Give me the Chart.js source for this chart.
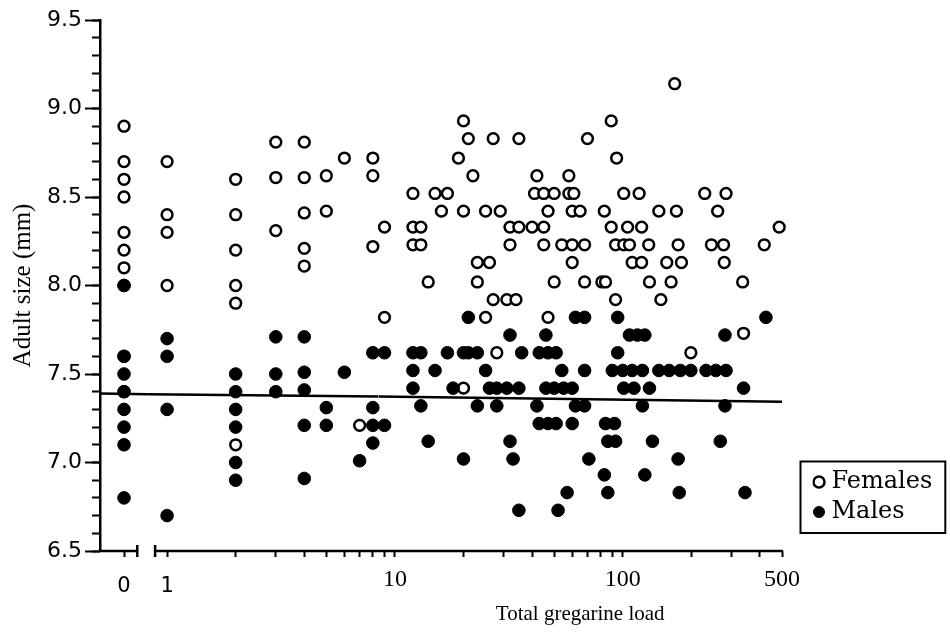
<!DOCTYPE html>
<html>
<head>
<meta charset="utf-8">
<script src="https://cdn.jsdelivr.net/npm/chart.js"></script>
<style>html,body{margin:0;padding:0;background:#fff;}canvas{display:block;}</style>
</head>
<body>
<canvas id="c" width="950" height="633"></canvas>
<script>
// ---------------- values ----------------
// Adult size (mm) of individuals with zero gregarines
const zeroFemaleSize = [8.9, 8.7, 8.6, 8.5, 8.3, 8.2, 8.1, 8.0, 7.6, 7.4];
const zeroMaleSize   = [8.0, 7.6, 7.5, 7.4, 7.3, 7.2, 7.1, 6.8];

// Females with a gregarine load >= 1 (load, size)
const femaleLoad = [
  1, 1, 1, 1,
  2, 2, 2, 2, 2, 2,
  3, 3, 3,
  4, 4, 4, 4, 4,
  5, 5, 6, 7, 8, 8, 8, 9, 9,
  169,
  20, 89,
  21, 27, 35, 70,
  19, 94,
  22, 42, 58,
  12, 15, 17, 41, 45, 50, 58, 61, 101, 118, 229, 284,
  16, 20, 25, 29, 47, 60, 65, 83, 144, 172, 261,
  12, 13, 32, 35, 40, 45, 89, 105, 121, 486,
  12, 13, 32, 45, 54, 60, 68, 93, 101, 107, 130, 175, 245, 277, 418,
  23, 26, 60, 110, 121, 156, 181, 279,
  14, 23, 50, 68, 81, 84, 131, 163, 336,
  27, 31, 34, 93, 147,
  25, 47,
  339,
  28, 199,
  20
];
const femaleSize = [
  8.7, 8.4, 8.3, 8.0,
  8.6, 8.4, 8.2, 8.0, 7.9, 7.1,
  8.81, 8.61, 8.31,
  8.81, 8.61, 8.41, 8.21, 8.11,
  8.62, 8.42, 8.72, 7.21, 8.72, 8.62, 8.22, 8.33, 7.82,
  9.14,
  8.93, 8.93,
  8.83, 8.83, 8.83, 8.83,
  8.72, 8.72,
  8.62, 8.62, 8.62,
  8.52, 8.52, 8.52, 8.52, 8.52, 8.52, 8.52, 8.52, 8.52, 8.52, 8.52, 8.52,
  8.42, 8.42, 8.42, 8.42, 8.42, 8.42, 8.42, 8.42, 8.42, 8.42, 8.42,
  8.33, 8.33, 8.33, 8.33, 8.33, 8.33, 8.33, 8.33, 8.33, 8.33,
  8.23, 8.23, 8.23, 8.23, 8.23, 8.23, 8.23, 8.23, 8.23, 8.23, 8.23, 8.23, 8.23, 8.23, 8.23,
  8.13, 8.13, 8.13, 8.13, 8.13, 8.13, 8.13, 8.13,
  8.02, 8.02, 8.02, 8.02, 8.02, 8.02, 8.02, 8.02, 8.02,
  7.92, 7.92, 7.92, 7.92, 7.92,
  7.82, 7.82,
  7.73,
  7.62, 7.62,
  7.42
];

// Males with a gregarine load >= 1 (load, size)
const maleLoad = [
  1, 1, 1, 1,
  2, 2, 2, 2, 2, 2,
  3, 3, 3,
  4, 4, 4, 4, 4,
  5, 5, 6, 7, 8, 8, 8, 8, 9, 9,
  21, 62, 68, 95, 425,
  32, 46, 107, 116, 125, 281,
  12, 13, 17, 20, 21, 23, 36, 43, 47, 51, 95,
  12, 15, 25, 54, 68, 90, 100, 110, 122, 144, 160, 179, 199, 232, 256, 284,
  12, 18, 26, 28, 31, 35, 46, 50, 55, 60, 101, 112, 131, 339,
  13, 23, 28, 42, 62, 68, 122, 281,
  43, 47, 51, 60, 84, 92,
  14, 32, 86, 93, 135, 268,
  20, 33, 71, 175,
  83, 125,
  57, 86, 177, 344,
  35, 52
];
const maleSize = [
  7.7, 7.6, 7.3, 6.7,
  7.5, 7.4, 7.3, 7.2, 7.0, 6.9,
  7.71, 7.5, 7.4,
  7.71, 7.51, 7.41, 7.21, 6.91,
  7.31, 7.21, 7.51, 7.01, 7.62, 7.31, 7.21, 7.11, 7.62, 7.21,
  7.82, 7.82, 7.82, 7.82, 7.82,
  7.72, 7.72, 7.72, 7.72, 7.72, 7.72,
  7.62, 7.62, 7.62, 7.62, 7.62, 7.62, 7.62, 7.62, 7.62, 7.62, 7.62,
  7.52, 7.52, 7.52, 7.52, 7.52, 7.52, 7.52, 7.52, 7.52, 7.52, 7.52, 7.52, 7.52, 7.52, 7.52, 7.52,
  7.42, 7.42, 7.42, 7.42, 7.42, 7.42, 7.42, 7.42, 7.42, 7.42, 7.42, 7.42, 7.42, 7.42,
  7.32, 7.32, 7.32, 7.32, 7.32, 7.32, 7.32, 7.32,
  7.22, 7.22, 7.22, 7.22, 7.22, 7.22,
  7.12, 7.12, 7.12, 7.12, 7.12, 7.12,
  7.02, 7.02, 7.02, 7.02,
  6.93, 6.93,
  6.83, 6.83, 6.83, 6.83,
  6.73, 6.73
];

// Fitted regression line: size = intercept + slope * log10(load + 1)
const fitLine = { intercept: 7.39, slope: -0.0174 };

// Tick labels
const loadTickLabels = [0, 1, 10, 100, 500];
const sizeTickLabels = [6.5, 7.0, 7.5, 8.0, 8.5, 9.0, 9.5];

// ---------------- axis geometry (broken log axis) ----------------
const ZERO_MIN = -1, ZERO_MAX = 1;     // linear segment holding the "0" column
const LOG_MIN = 0.825, LOG_SPLIT = 8.46, LOG_MAX = 500;
const DECADE_PX = 227.6;
const AXIS_BREAK = [0.55, 0.886];      // end of zero segment, start of log segment (axis units)

function collect(loads, sizes, lo, hi) {
  const out = [];
  loads.forEach((l, i) => { if (l >= lo && l < hi) out.push({ x: l, y: sizes[i] }); });
  return out;
}
const zeroPoints = sizes => sizes.map(s => ({ x: 0, y: s }));
const fitAt = load => fitLine.intercept + fitLine.slope * Math.log10(load + 1);

const minorLoadTicks = [];
[1, 10, 100].forEach(d => { for (let m = 1; m <= 9; m++) if (d * m <= LOG_MAX) minorLoadTicks.push(d * m); });

const femaleStyle = { backgroundColor: '#ffffff', borderColor: '#000000', borderWidth: 2.5,
  pointRadius: 5.4, pointHoverRadius: 5.4, order: 2, clip: false, yAxisID: 'y' };
const maleStyle = { backgroundColor: '#000000', borderColor: '#000000', borderWidth: 1,
  pointRadius: 6.3, pointHoverRadius: 6.3, order: 1, clip: false, yAxisID: 'y' };
const lineStyle = { showLine: true, borderColor: '#000000', borderWidth: 2.5, pointRadius: 0,
  pointHoverRadius: 0, order: 0, fill: false, yAxisID: 'y' };

const datasets = [
  Object.assign({ label: 'Females', xAxisID: 'xb', data: collect(femaleLoad, femaleSize, LOG_SPLIT, Infinity) }, femaleStyle),
  Object.assign({ label: 'Males', xAxisID: 'xb', data: collect(maleLoad, maleSize, LOG_SPLIT, Infinity) }, maleStyle),
  Object.assign({ label: 'Females', xAxisID: 'xa', data: collect(femaleLoad, femaleSize, 0.5, LOG_SPLIT) }, femaleStyle),
  Object.assign({ label: 'Males', xAxisID: 'xa', data: collect(maleLoad, maleSize, 0.5, LOG_SPLIT) }, maleStyle),
  Object.assign({ label: 'Females', xAxisID: 'x0', data: zeroPoints(zeroFemaleSize) }, femaleStyle),
  Object.assign({ label: 'Males', xAxisID: 'x0', data: zeroPoints(zeroMaleSize) }, maleStyle),
  Object.assign({ label: 'fit', xAxisID: 'x0', data: [{ x: ZERO_MIN, y: fitAt(0) }, { x: ZERO_MAX, y: fitAt(LOG_MIN) }] }, lineStyle),
  Object.assign({ label: 'fit', xAxisID: 'xa', data: [{ x: LOG_MIN, y: fitAt(LOG_MIN) }, { x: LOG_SPLIT, y: fitAt(LOG_SPLIT) }] }, lineStyle),
  Object.assign({ label: 'fit', xAxisID: 'xb', data: [{ x: LOG_SPLIT, y: fitAt(LOG_SPLIT) }, { x: LOG_MAX, y: fitAt(LOG_MAX) }] }, lineStyle)
];

const loadLabel = v => loadTickLabels.includes(v) ? String(v) : '';
const sansTick = { family: 'DejaVu Sans', size: 21 };
const serifTick = { family: 'Liberation Serif', size: 24 };
const xGrid = { drawOnChartArea: false, drawTicks: true, tickLength: 6, tickWidth: 2, color: '#000' };
const fixHeight = s => { s.height = 82; };

const frame = {
  id: 'frame',
  afterLayout(chart) {
    const lg = chart.legend, ca = chart.chartArea;
    const w = lg.width, h = lg.height;
    lg.left = ca.right + 30.5; lg.right = lg.left + w;
    lg.top = ca.bottom - 87; lg.bottom = lg.top + h;
  },
  afterDraw(chart) {
    const { ctx, chartArea: ca, scales } = chart;
    ctx.save();
    ctx.strokeStyle = '#000'; ctx.lineWidth = 2.5; ctx.lineCap = 'butt';
    const y = ca.bottom;
    const aEnd = scales.x0.getPixelForValue(AXIS_BREAK[0]);
    const bStart = scales.xa.getPixelForValue(AXIS_BREAK[1]);
    ctx.beginPath();
    ctx.moveTo(ca.left - 1.25, y); ctx.lineTo(aEnd, y);
    ctx.moveTo(aEnd, y - 6); ctx.lineTo(aEnd, y + 6);
    ctx.moveTo(bStart, y - 6); ctx.lineTo(bStart, y + 6);
    ctx.moveTo(bStart, y); ctx.lineTo(scales.xb.right + 1, y);
    ctx.stroke();
    const hb = chart.legend.legendHitBoxes;
    if (hb && hb.length) {
      const l = Math.min(...hb.map(b => b.left)) - 18;
      const t = Math.min(...hb.map(b => b.top)) - 8.5;
      const r = Math.max(...hb.map(b => b.left + b.width)) + 13;
      const btm = Math.max(...hb.map(b => b.top + b.height)) + 9;
      ctx.lineWidth = 2;
      ctx.strokeRect(l, t, r - l, btm - t);
    }
    ctx.restore();
  }
};

new Chart(document.getElementById('c'), {
  type: 'scatter',
  data: { datasets },
  options: {
    responsive: false,
    animation: false,
    events: [],
    layout: { padding: { top: 20, right: 168, bottom: 0, left: 0 } },
    plugins: {
      tooltip: { enabled: false },
      legend: {
        position: 'chartArea',
        align: 'start',
        labels: {
          usePointStyle: true, boxWidth: 1, boxHeight: 7.8, padding: 6, color: '#000',
          font: { family: 'DejaVu Serif', size: 24 },
          filter: item => item.datasetIndex < 2,
          sort: (a, b) => a.datasetIndex - b.datasetIndex
        }
      }
    },
    scales: {
      x0: {
        type: 'linear', position: 'bottom', stack: 'load', stackWeight: 48,
        min: ZERO_MIN, max: ZERO_MAX,
        afterBuildTicks: s => { s.ticks = [{ value: 0 }]; },
        afterFit: fixHeight,
        ticks: { autoSkip: false, maxRotation: 0, padding: 17, color: '#000', font: sansTick, callback: v => loadLabel(v) },
        grid: xGrid, border: { display: false }
      },
      xa: {
        type: 'logarithmic', position: 'bottom', stack: 'load',
        stackWeight: Math.log10(LOG_SPLIT / LOG_MIN) * DECADE_PX,
        min: LOG_MIN, max: LOG_SPLIT,
        afterBuildTicks: s => { s.ticks = minorLoadTicks.filter(v => v >= LOG_MIN && v < LOG_SPLIT).map(v => ({ value: v })); },
        afterFit: fixHeight,
        ticks: { autoSkip: false, maxRotation: 0, padding: 17, color: '#000', font: sansTick, callback: v => loadLabel(v) },
        grid: xGrid, border: { display: false }
      },
      xb: {
        type: 'logarithmic', position: 'bottom', stack: 'load',
        stackWeight: Math.log10(LOG_MAX / LOG_SPLIT) * DECADE_PX,
        min: LOG_SPLIT, max: LOG_MAX,
        afterBuildTicks: s => { s.ticks = minorLoadTicks.filter(v => v >= LOG_SPLIT && v <= LOG_MAX).map(v => ({ value: v })); },
        afterFit: fixHeight,
        ticks: { autoSkip: false, maxRotation: 0, padding: 8, color: '#000', font: serifTick, callback: v => loadLabel(v) },
        grid: xGrid, border: { display: false },
        title: { display: true, text: 'Total gregarine load', color: '#000',
          font: { family: 'Liberation Serif', size: 21 }, padding: { top: 0, bottom: 6 } }
      },
      y: {
        type: 'linear', position: 'left', min: 6.5, max: 9.5,
        afterFit: s => { s.width = 100; },
        ticks: {
          stepSize: 0.5, autoSkip: false, padding: 3, color: '#000',
          font: { family: 'DejaVu Sans', size: 22 },
          callback: v => sizeTickLabels.some(t => Math.abs(t - v) < 1e-6) ? Number(v).toFixed(1) : ''
        },
        grid: { drawOnChartArea: false, drawTicks: true, tickLength: 15, tickWidth: 2, color: '#000' },
        border: { display: true, color: '#000', width: 2.5 },
        title: { display: true, text: 'Adult size (mm)', color: '#000',
          font: { family: 'Liberation Serif', size: 25 }, padding: { top: 8, bottom: 0 } }
      },
      yMinor: {
        type: 'linear', position: { x0: ZERO_MIN }, min: 6.5, max: 9.5,
        ticks: { stepSize: 0.1, autoSkip: false, display: false },
        grid: { drawOnChartArea: false, drawTicks: true, tickLength: 8, tickWidth: 2, color: '#000' },
        border: { display: false }
      }
    }
  },
  plugins: [frame]
});
</script>
</body>
</html>
